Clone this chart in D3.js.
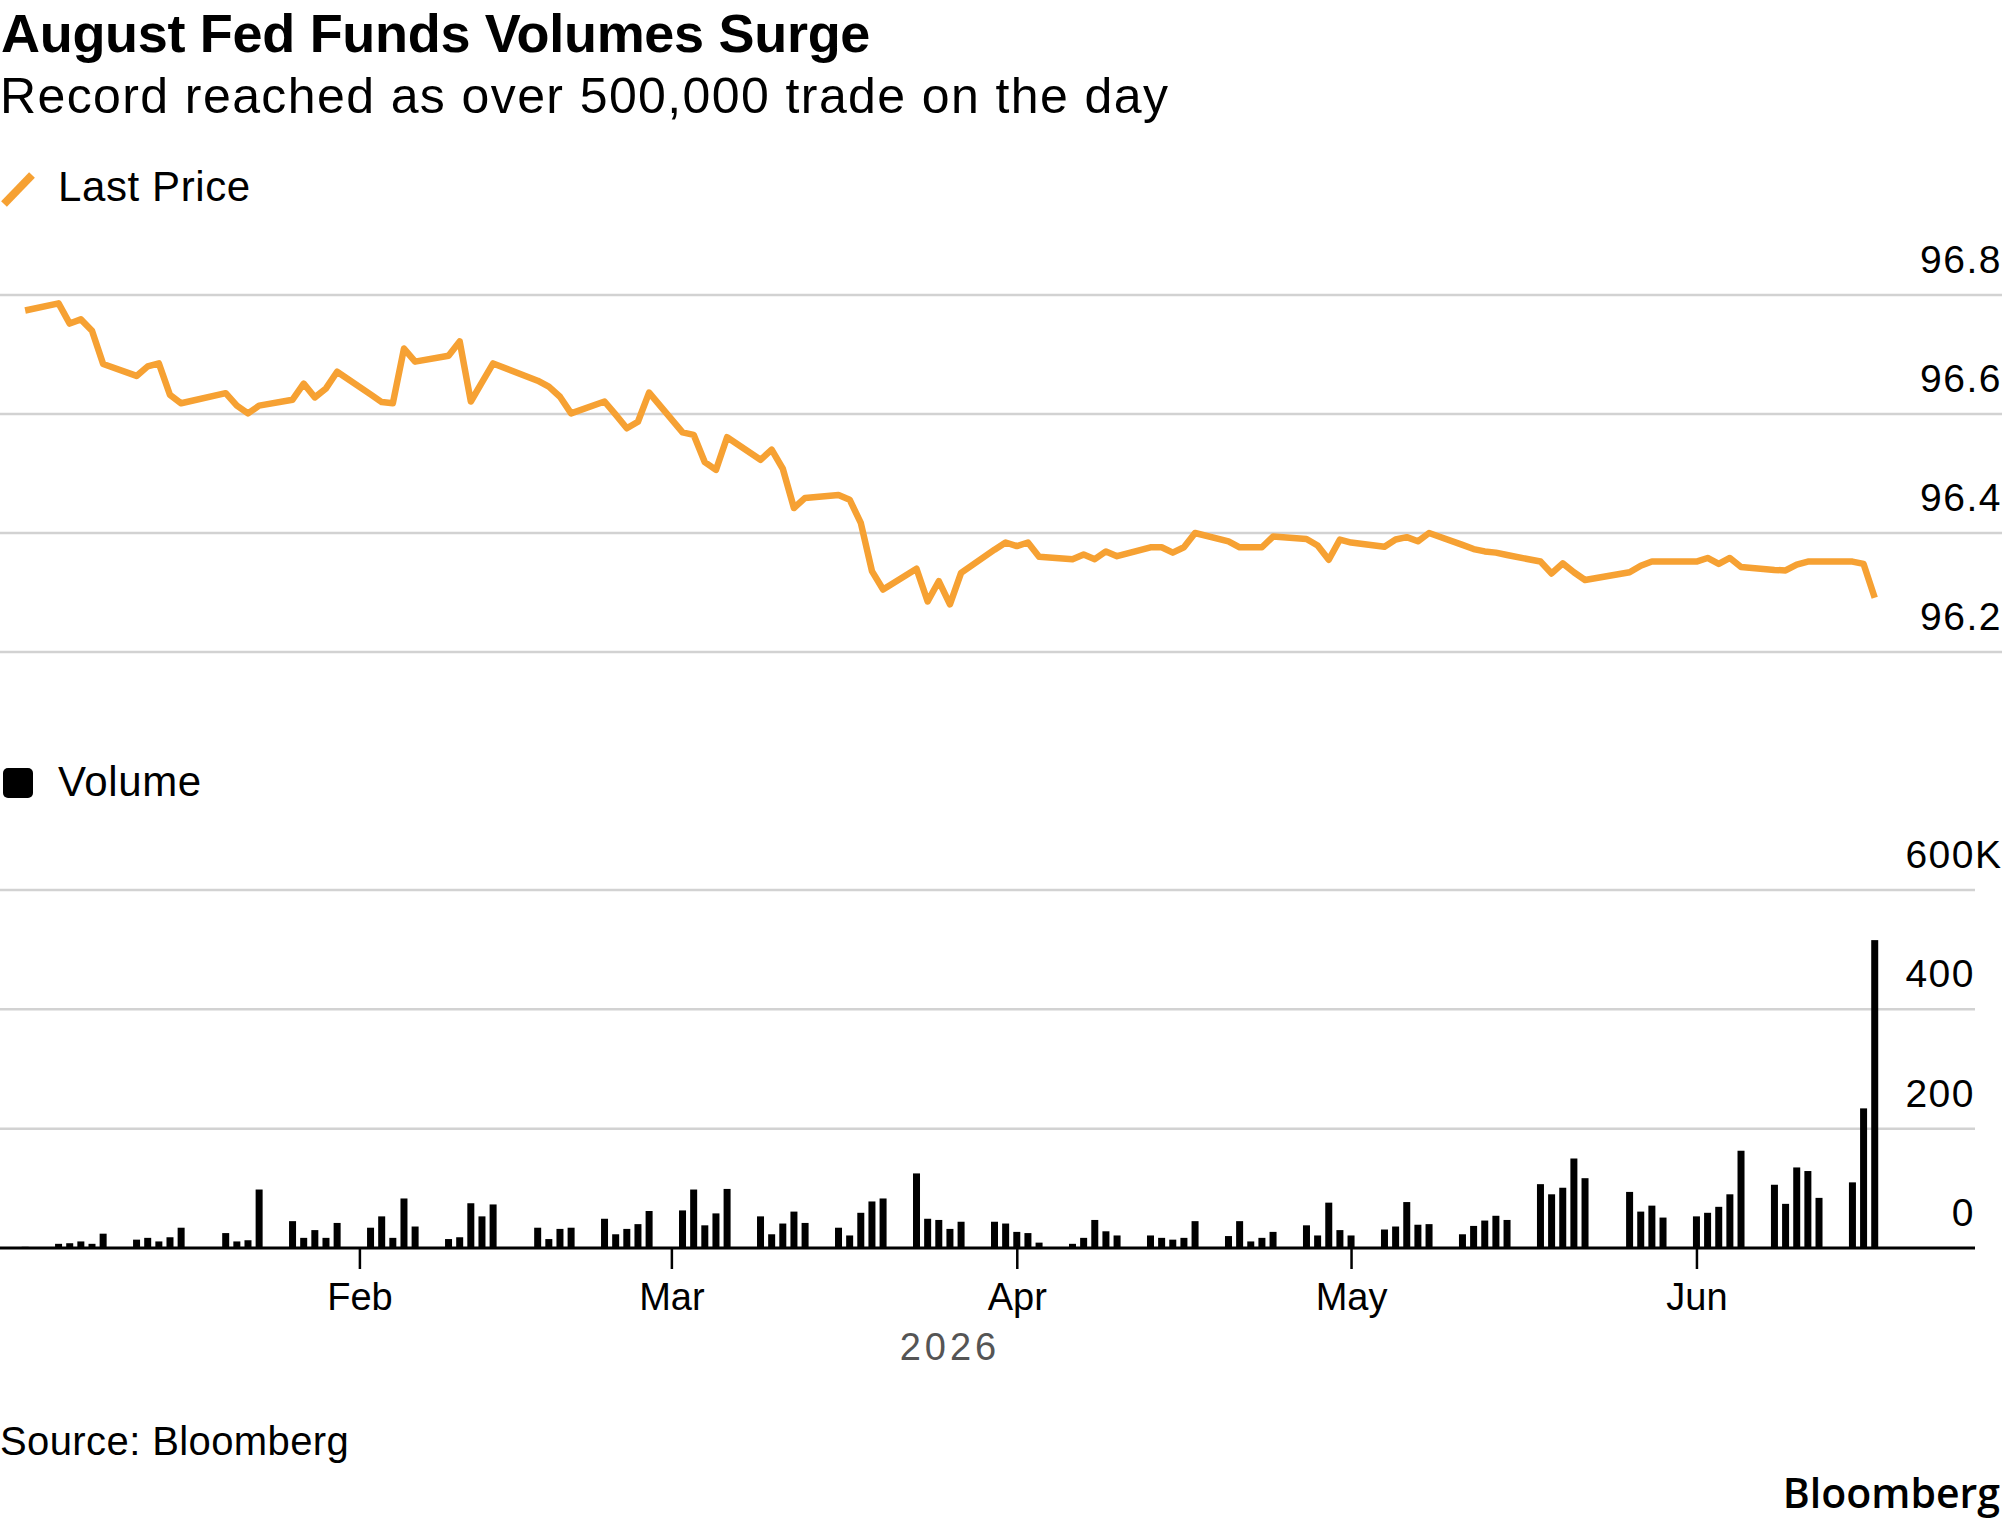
<!DOCTYPE html>
<html lang="en">
<head>
<meta charset="UTF-8">
<title>August Fed Funds Volumes Surge</title>
<script src="https://d3js.org/d3.v7.min.js"></script>
<style>
    body { margin: 0; background: white; }
    svg { display: block; font-family: "Liberation Sans", Arial, Helvetica, sans-serif; }
</style>
</head>
<body>
<script>
    // trading days of 2026 (month-day)
    const days = [
        "01-02","01-05","01-06","01-07","01-08","01-09","01-12","01-13","01-14","01-15","01-16",
        "01-20","01-21","01-22","01-23","01-26","01-27","01-28","01-29","01-30",
        "02-02","02-03","02-04","02-05","02-06","02-09","02-10","02-11","02-12","02-13",
        "02-17","02-18","02-19","02-20","02-23","02-24","02-25","02-26","02-27",
        "03-02","03-03","03-04","03-05","03-06","03-09","03-10","03-11","03-12","03-13",
        "03-16","03-17","03-18","03-19","03-20","03-23","03-24","03-25","03-26","03-27","03-30","03-31",
        "04-01","04-02","04-03","04-06","04-07","04-08","04-09","04-10","04-13","04-14","04-15","04-16","04-17",
        "04-20","04-21","04-22","04-23","04-24","04-27","04-28","04-29","04-30",
        "05-01","05-04","05-05","05-06","05-07","05-08","05-11","05-12","05-13","05-14","05-15",
        "05-18","05-19","05-20","05-21","05-22","05-26","05-27","05-28","05-29",
        "06-01","06-02","06-03","06-04","06-05","06-08","06-09","06-10","06-11","06-12","06-15","06-16","06-17"
    ];

    // Last Price
    const lastPrice = [
        96.774, 96.786, 96.752, 96.759, 96.740, 96.684, 96.664, 96.680, 96.685, 96.632, 96.618,
        96.635, 96.614, 96.601, 96.614, 96.624, 96.651, 96.628, 96.643, 96.671,
        96.633, 96.620, 96.618, 96.710, 96.688, 96.698, 96.722, 96.621, 96.653, 96.685,
        96.656, 96.646, 96.629, 96.601, 96.621, 96.599, 96.576, 96.587, 96.636,
        96.569, 96.565, 96.519, 96.506, 96.561, 96.523, 96.540, 96.508, 96.442, 96.459,
        96.464, 96.456, 96.417, 96.336, 96.305, 96.340, 96.285, 96.319, 96.280, 96.333, 96.372, 96.384,
        96.378, 96.384, 96.360, 96.356, 96.364, 96.356, 96.369, 96.361, 96.376, 96.376, 96.367, 96.376, 96.400,
        96.386, 96.376, 96.376, 96.376, 96.394, 96.390, 96.379, 96.355, 96.389,
        96.384, 96.377, 96.389, 96.393, 96.386, 96.400, 96.380, 96.373, 96.369, 96.367, 96.363,
        96.352, 96.332, 96.349, 96.334, 96.321, 96.334, 96.345, 96.352, 96.352,
        96.352, 96.358, 96.348, 96.358, 96.343, 96.338, 96.337, 96.347, 96.352, 96.352, 96.352, 96.348, 96.291
    ];

    // Volume, thousands of contracts
    const volume = [
        2, 7, 8, 11, 7, 24, 14, 17, 11, 18, 34,
        25, 11, 13, 98, 45, 17, 30, 17, 42,
        34, 53, 17, 83, 36, 15, 18, 75, 53, 73,
        34, 15, 32, 34, 49, 23, 32, 40, 62,
        63, 98, 38, 58, 99, 53, 23, 41, 61, 42,
        34, 21, 59, 78, 83, 125, 49, 47, 32, 44, 44, 41,
        27, 25, 9, 7, 17, 47, 28, 21, 21, 17, 14, 17, 45,
        20, 45, 11, 17, 27, 38, 21, 76, 30,
        21, 31, 36, 77, 39, 40, 23, 37, 46, 54, 47,
        107, 90, 101, 150, 117, 94, 61, 71, 51,
        53, 59, 69, 90, 163, 106, 74, 135, 129, 84, 110, 234, 516
    ];

    const priceTicks = [96.2, 96.4, 96.6, 96.8];
    const volumeTicks = [0, 200, 400, 600];
    const monthTicks = ["2026-02-01", "2026-03-01", "2026-04-01", "2026-05-01", "2026-06-01"];

    const W = 2002, H = 1524;
    const orange = "#f6a133";
    const gridColor = "#d2d2d2";

    const parse = d3.timeParse("%Y-%m-%d");
    const data = days.map((d, i) => ({date: parse("2026-" + d), price: lastPrice[i], vol: volume[i]}));

    const svg = d3.select("body").append("svg")
        .attr("width", W)
        .attr("height", H);

    // Scales
    const x = d3.scaleTime()
        .domain([parse("2026-01-01"), parse("2026-06-26")])
        .range([14, 1975]);

    const yPrice = d3.scaleLinear()
        .domain([96.2, 96.8])
        .range([652, 295]);

    const yVol = d3.scaleLinear()
        .domain([0, 600])
        .range([1248, 890]);

    // Titles
    svg.append("text")
        .attr("x", 1).attr("y", 52)
        .style("font-size", "54px").style("font-weight", "bold")
        .style("letter-spacing", "-0.3px")
        .text("August Fed Funds Volumes Surge");

    svg.append("text")
        .attr("x", 0).attr("y", 113)
        .style("font-size", "50px")
        .style("letter-spacing", "1.4px")
        .text("Record reached as over 500,000 trade on the day");

    // Legend: Last Price
    svg.append("line")
        .attr("x1", 4).attr("y1", 204).attr("x2", 32).attr("y2", 175)
        .attr("stroke", orange).attr("stroke-width", 8);
    svg.append("text")
        .attr("x", 58).attr("y", 201)
        .style("font-size", "42px").style("letter-spacing", "0.6px")
        .text("Last Price");

    // Price gridlines + labels
    priceTicks.forEach(t => {
        svg.append("line")
            .attr("x1", 0).attr("x2", W)
            .attr("y1", yPrice(t)).attr("y2", yPrice(t))
            .attr("stroke", gridColor).attr("stroke-width", 2.5);
        svg.append("text")
            .attr("x", W).attr("y", yPrice(t) - 22)
            .attr("text-anchor", "end")
            .style("font-size", "39px").style("letter-spacing", "1.5px")
            .text(d3.format(".1f")(t));
    });

    // Price line
    svg.append("path")
        .datum(data)
        .attr("fill", "none")
        .attr("stroke", orange)
        .attr("stroke-width", 6.5)
        .attr("stroke-linejoin", "round")
        .attr("d", d3.line().x(d => x(d.date)).y(d => yPrice(d.price)));

    // Legend: Volume
    svg.append("rect")
        .attr("x", 3).attr("y", 768).attr("width", 30).attr("height", 30)
        .attr("rx", 5).attr("fill", "black");
    svg.append("text")
        .attr("x", 58).attr("y", 796)
        .style("font-size", "42px").style("letter-spacing", "0.6px")
        .text("Volume");

    // Volume gridlines + labels
    volumeTicks.forEach(t => {
        if (t > 0) {
            svg.append("line")
                .attr("x1", 0).attr("x2", 1975)
                .attr("y1", yVol(t)).attr("y2", yVol(t))
                .attr("stroke", gridColor).attr("stroke-width", 2.5);
        }
        svg.append("text")
            .attr("x", 1975).attr("y", yVol(t) - 22)
            .attr("text-anchor", "end")
            .style("font-size", "39px").style("letter-spacing", "1.5px")
            .text(t);
        if (t === 600) {
            svg.append("text")
                .attr("x", 1975).attr("y", yVol(t) - 22)
                .style("font-size", "39px")
                .text("K");
        }
    });

    // Volume bars
    svg.selectAll(".bar")
        .data(data)
        .enter()
        .append("rect")
        .attr("class", "bar")
        .attr("x", d => x(d.date) - 3.5)
        .attr("width", 7)
        .attr("y", d => yVol(d.vol))
        .attr("height", d => yVol(0) - yVol(d.vol))
        .attr("fill", "black");

    // X axis
    svg.append("line")
        .attr("x1", 0).attr("x2", 1975)
        .attr("y1", yVol(0)).attr("y2", yVol(0))
        .attr("stroke", "black").attr("stroke-width", 3);

    const xAxis = svg.append("g")
        .attr("transform", `translate(0,${yVol(0)})`)
        .call(d3.axisBottom(x)
            .tickValues(monthTicks.map(parse))
            .tickFormat(d3.timeFormat("%b"))
            .tickSize(21)
            .tickPadding(14)
            .tickSizeOuter(0));
    xAxis.select(".domain").remove();
    xAxis.selectAll(".tick line").attr("stroke", "black").attr("stroke-width", 2.5);
    xAxis.selectAll(".tick text")
        .attr("fill", "black")
        .style("font-family", "\"Liberation Sans\", Arial, sans-serif")
        .style("font-size", "38px");

    svg.append("text")
        .attr("x", 950).attr("y", 1360)
        .attr("text-anchor", "middle")
        .attr("fill", "#555")
        .style("font-size", "38px").style("letter-spacing", "4px")
        .text("2026");

    // Footer
    svg.append("text")
        .attr("x", 0).attr("y", 1455)
        .style("font-size", "40px").style("letter-spacing", "0.4px")
        .text("Source: Bloomberg");

    svg.append("text")
        .attr("x", 2000).attr("y", 1508)
        .attr("text-anchor", "end")
        .style("font-family", "\"Open Sans\", Lato, sans-serif")
        .style("font-size", "41px").style("font-weight", "600")
        .text("Bloomberg");
</script>
</body>
</html>
